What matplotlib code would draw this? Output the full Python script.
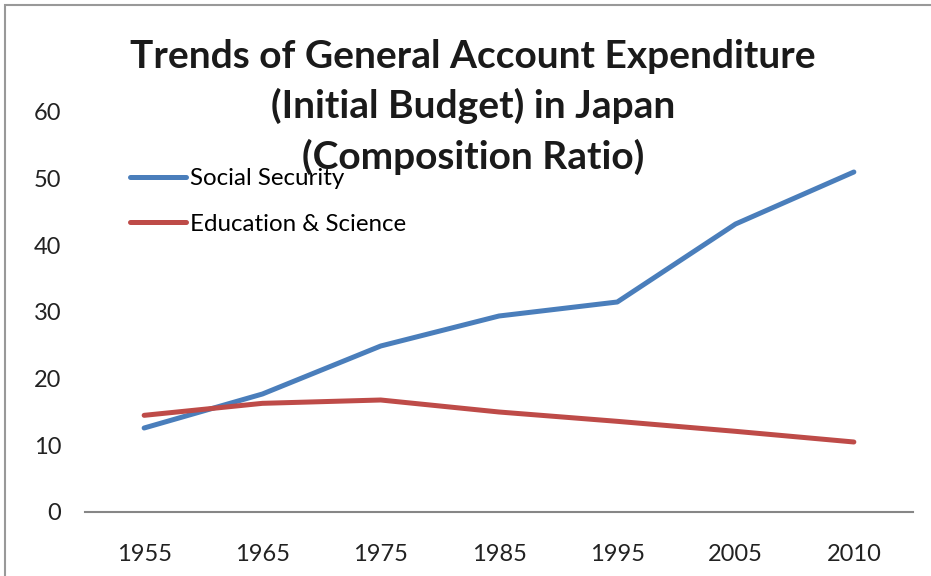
import matplotlib
matplotlib.use("Agg")
import matplotlib.pyplot as plt
from matplotlib.patches import Rectangle

years = ["1955", "1965", "1975", "1985", "1995", "2005", "2010"]
social_security = [12.6, 17.7, 24.9, 29.4, 31.5, 43.2, 51.0]
education_science = [14.5, 16.3, 16.8, 15.0, 13.6, 12.1, 10.5]
yticks = [0, 10, 20, 30, 40, 50, 60]

W, H = 931, 576
fig = plt.figure(figsize=(W / 100, H / 100), dpi=100)
font = "Lato"

ax = fig.add_axes([85 / W, (H - 512) / H, (913 - 85) / W, 400 / H])
x = list(range(len(years)))
ax.plot(x, social_security, color="#4A7EBB", lw=3.6, solid_capstyle="round", label="Social Security")
ax.plot(x, education_science, color="#BE4B48", lw=3.6, solid_capstyle="round", label="Education & Science")
ax.set_xlim(-0.5, len(years) - 0.5)
ax.set_ylim(0, 60)
ax.set_yticks(yticks)
ax.set_xticks(x)
ax.set_xticklabels(years)
for s in ["top", "right", "left"]:
    ax.spines[s].set_visible(False)
ax.spines["bottom"].set_color("#868686")
ax.spines["bottom"].set_linewidth(1.5)
ax.tick_params(axis="both", length=0, labelsize=17, colors="#222222")
ax.tick_params(axis="y", pad=17)
ax.tick_params(axis="x", pad=23)
for lab in ax.get_xticklabels() + ax.get_yticklabels():
    lab.set_fontfamily(font)

leg = ax.legend(loc="upper left", bbox_to_anchor=(45 / 828, (512 - 168) / 400), frameon=False,
                prop={"family": font, "size": 17.4}, handlelength=2.3, handletextpad=0.2,
                labelspacing=1.02, borderpad=0, borderaxespad=0)

fig.text(473 / W, 1 - 107 / H, "Trends of General Account Expenditure\n(Initial Budget) in Japan\n(Composition Ratio)",
         ha="center", va="center", fontsize=28, fontweight="bold", family=font, color="#1a1a1a",
         linespacing=1.47)

fig.patches.append(Rectangle((5 / W, -0.1), 1.2, 1 - 5 / H + 0.1, transform=fig.transFigure,
                             fill=False, edgecolor="#999999", lw=1.5))

fig.savefig("out.png", dpi=100)
